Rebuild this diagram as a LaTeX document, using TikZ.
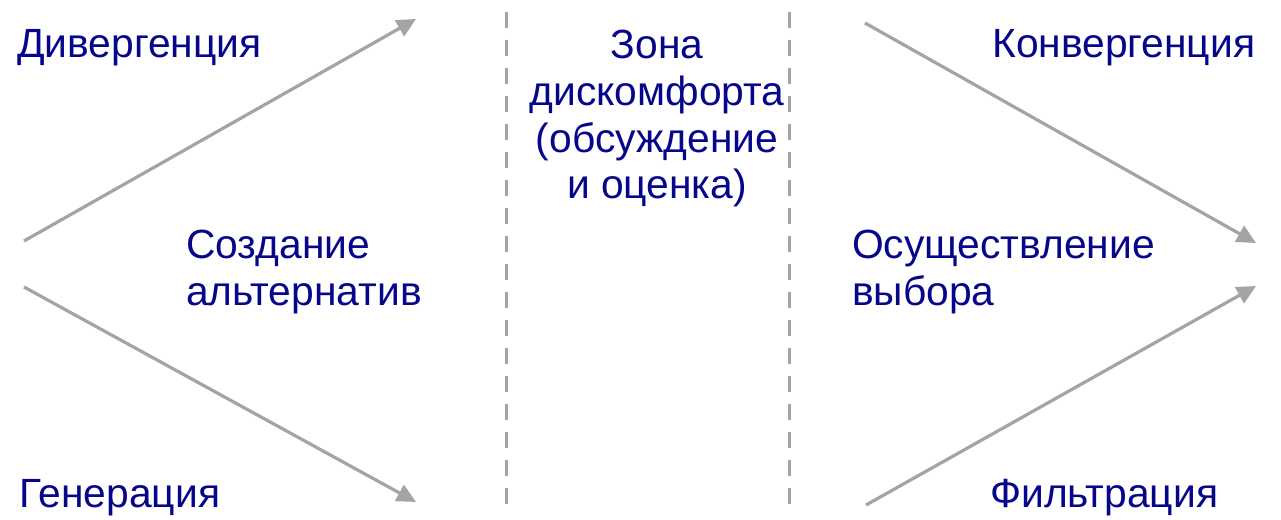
\documentclass[tikz,border=0pt]{standalone}
\usepackage{fontspec}
\setmainfont{Liberation Sans}
\usetikzlibrary{arrows.meta}
\definecolor{navy}{HTML}{06068A}
\definecolor{lgray}{HTML}{A4A4A4}
\tikzset{
  lbl/.style={text=navy, font=\fontsize{40.8}{47}\selectfont, inner sep=0pt},
  arr/.style={draw=lgray, line width=3.2pt, -{Triangle[length=19pt,width=18pt]}},
  sep/.style={draw=lgray, line width=3pt, dash pattern=on 16pt off 12pt},
}
\begin{document}
\begin{tikzpicture}[x=1pt,y=-1pt]
\useasboundingbox (0,0) rectangle (1281,519);
% connector end points
\coordinate (ls1) at (24,241);
\coordinate (le1) at (416,19);
\coordinate (ls2) at (24,287);
\coordinate (le2) at (416,502);
\coordinate (rs1) at (865,23);
\coordinate (re1) at (1256,243);
\coordinate (rs2) at (866,505);
\coordinate (re2) at (1256,286);
\coordinate (d1t) at (506,12);
\coordinate (d1b) at (506,512);
\coordinate (d2t) at (789,12);
\coordinate (d2b) at (789,512);
\draw[arr] (ls1) -- (le1);
\draw[arr] (ls2) -- (le2);
\draw[arr] (rs1) -- (re1);
\draw[arr] (rs2) -- (re2);
\draw[sep] (d1t) -- (d1b);
\draw[sep] (d2t) -- (d2b);
% labels
\node[lbl, anchor=base west] (div) at (17,58) {Дивергенция};
\node[lbl, anchor=base west] (gen) at (19,507) {Генерация};
\node[lbl, anchor=base west] (kon) at (992,58) {Конвергенция};
\node[lbl, anchor=base west] (fil) at (990,507) {Фильтрация};
\node[lbl, anchor=base west] (soz1) at (186,258) {Создание};
\node[lbl, anchor=base west] (soz2) at (186,305) {альтернатив};
\node[lbl, anchor=base west] (osu1) at (852,258) {Осуществление};
\node[lbl, anchor=base west] (osu2) at (852,305) {выбора};
\node[lbl, anchor=base] (z1) at (657,59) {Зона};
\node[lbl, anchor=base] (z2) at (657,105.5) {дискомфорта};
\node[lbl, anchor=base] (z3) at (657,152) {(обсуждение};
\node[lbl, anchor=base] (z4) at (657,198.5) {и оценка)};
\end{tikzpicture}
\end{document}
